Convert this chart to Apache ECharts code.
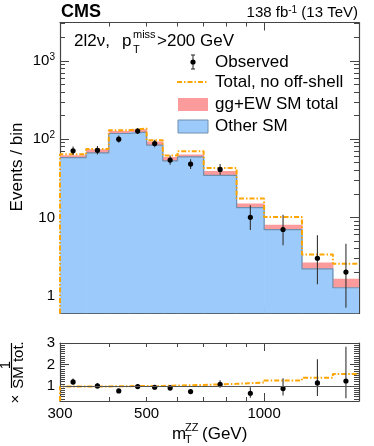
<!DOCTYPE html>
<html>
<head>
<meta charset="utf-8">
<script src="https://cdn.jsdelivr.net/npm/echarts@6/dist/echarts.min.js"></script>
<style>html,body{margin:0;padding:0;background:#fff}#c{width:374px;height:446px}</style>
</head>
<body>
<div id="c"></div>
<script>
// ---- data ----
const binEdges = [300, 350, 400, 450, 500, 550, 600, 700, 850, 1000, 1250, 1500, 1750];
const otherSM = [58.2, 66.7, 118, 123, 83.8, 52.7, 59.3, 34.5, 13.3, 6.95, 2.2, 1.26];
const smTotal = [62.4, 74.5, 127, 134, 93.4, 59.3, 63.7, 39.2, 15.0, 8.06, 2.65, 1.64];
const totalNoOffShell = [64, 75, 130, 137, 97, 61.7, 70, 42.9, 17.4, 10.1, 3.35, 2.55];
const observed = [71, 72, 100, 127, 88, 54, 48, 41, 10, 7, 3, 2];
const obsErrUp = [9.5, 9.5, 11, 12, 10, 8, 7.5, 7, 4.3, 3.8, 2.9, 2.6];
const obsErrDown = [8.4, 8.5, 10, 11, 9, 7, 6.5, 6, 3.1, 2.6, 1.6, 1.3];
const ratioObs = [1.19, 1.0, 0.77, 0.97, 0.94, 0.91, 0.74, 1.08, 0.66, 0.88, 1.14, 1.23];
const ratioNoOffShell = [0.98, 0.98, 0.99, 1.0, 1.0, 1.02, 1.05, 1.1, 1.16, 1.26, 1.38, 1.56];

const xTicksMinor = [400, 500, 600, 700, 800, 900];
const xTicksMajor = [1000];
const xTickLabels = [300, 500, 1000];
const yTicksMajor = [1, 10, 100, 1000];
const yTicksMinor = [0.6, 0.7, 0.8, 0.9, 2, 3, 4, 5, 6, 7, 8, 9, 20, 30, 40, 50, 60, 70, 80, 90, 200, 300, 400, 500, 600, 700, 800, 900, 2000, 3000];
const rTicksMajor = [1, 2, 3];
const rTicksMinor = [0.4, 0.5, 0.6, 0.7, 0.8, 0.9, 1.1, 1.2, 1.3, 1.4, 1.5, 1.6, 1.7, 1.8, 1.9, 2.1, 2.2, 2.3, 2.4, 2.5, 2.6, 2.7, 2.8, 2.9];

const xMin = 300, xMax = 1750;
const yMin = 0.59, yMax = 3100;
const rMin = 0.3, rMax = 3;

// ---- styles ----
const FONT = 'Liberation Sans, Arial, Helvetica, sans-serif';
const FRAME = '#444';
const BLUE = '#9ccbfb';
const BLUE_LINE = '#6f8fae';
const RED = '#fc9b9b';
const ORANGE = '#ffa500';
const DASH = [5, 2, 1.5, 2];

const chart = echarts.init(document.getElementById('c'), null, {renderer: 'canvas'});

function xAxesFor(gridIndex, withLabels) {
  const base = {type: 'log', logBase: 10, min: xMin, max: xMax, gridIndex, splitLine: {show: false}};
  return [
    Object.assign({}, base, {position: 'bottom',
      axisLine: {show: true, lineStyle: {color: FRAME, width: 1.2}},
      axisTick: {show: true, inside: true, length: 4, customValues: xTicksMinor, lineStyle: {color: FRAME}},
      axisLabel: {show: withLabels, customValues: xTickLabels, margin: 5, color: '#000', fontSize: 15, fontFamily: FONT,
        formatter: v => String(Math.round(v))}}),
    Object.assign({}, base, {position: 'bottom',
      axisLine: {show: false},
      axisTick: {show: true, inside: true, length: 8, customValues: xTicksMajor, lineStyle: {color: FRAME}},
      axisLabel: {show: false}}),
    Object.assign({}, base, {position: 'top',
      axisLine: {show: true, lineStyle: {color: FRAME, width: 1.2}},
      axisTick: {show: true, inside: true, length: 4, customValues: xTicksMinor, lineStyle: {color: FRAME}},
      axisLabel: {show: false}}),
    Object.assign({}, base, {position: 'top',
      axisLine: {show: false},
      axisTick: {show: true, inside: true, length: 8, customValues: xTicksMajor, lineStyle: {color: FRAME}},
      axisLabel: {show: false}})
  ];
}

function yAxesFor(gridIndex, type, min, max, major, minor, labelFmt) {
  const base = {type, min, max, gridIndex, splitLine: {show: false}};
  if (type === 'log') base.logBase = 10;
  return [
    Object.assign({}, base, {position: 'left',
      axisLine: {show: true, lineStyle: {color: FRAME, width: 1.2}},
      axisTick: {show: true, inside: true, length: 9, customValues: major, lineStyle: {color: FRAME}},
      axisLabel: {show: true, customValues: major, margin: 5, color: '#000', fontSize: 15, fontFamily: FONT,
        formatter: labelFmt, rich: {s: {fontSize: 10, fontFamily: FONT, color: '#000', verticalAlign: 'top', padding: [0, 0, 7, 0]}}}}),
    Object.assign({}, base, {position: 'left',
      axisLine: {show: false},
      axisTick: {show: true, inside: true, length: 5, customValues: minor, lineStyle: {color: FRAME}},
      axisLabel: {show: false}}),
    Object.assign({}, base, {position: 'right',
      axisLine: {show: true, lineStyle: {color: FRAME, width: 1.2}},
      axisTick: {show: true, inside: true, length: 9, customValues: major, lineStyle: {color: FRAME}},
      axisLabel: {show: false}}),
    Object.assign({}, base, {position: 'right',
      axisLine: {show: false},
      axisTick: {show: true, inside: true, length: 5, customValues: minor, lineStyle: {color: FRAME}},
      axisLabel: {show: false}})
  ];
}

const mainLabelFmt = v => {
  if (v < 50) return String(Math.round(v));
  return '10{s|' + Math.round(Math.log10(v)) + '}';
};

// histogram data
const blueRects = otherSM.map((v, i) => [binEdges[i], binEdges[i + 1], yMin, v]);
const redRects = smTotal.map((v, i) => [binEdges[i], binEdges[i + 1], otherSM[i], v]);
function stepData(vals, bottom) {
  const d = [];
  if (bottom !== undefined) d.push([binEdges[0], bottom]);
  vals.forEach((v, i) => d.push([binEdges[i], v]));
  d.push([binEdges[binEdges.length - 1], vals[vals.length - 1]]);
  return d;
}
const centers = binEdges.slice(0, -1).map((e, i) => Math.sqrt(e * binEdges[i + 1]));
const obsPoints = observed.map((v, i) => [centers[i], v, v - obsErrDown[i], v + obsErrUp[i]]);
const ratioPoints = ratioObs.map((r, i) => [centers[i], r, r - r * obsErrDown[i] / observed[i], r + r * obsErrUp[i] / observed[i]]);

function rectItem(params, api) {
  const p0 = api.coord([api.value(0), api.value(3)]);
  const p1 = api.coord([api.value(1), api.value(2)]);
  const c = api.visual('color');
  return {type: 'rect', shape: {x: p0[0], y: p0[1], width: p1[0] - p0[0] + 0.6, height: p1[1] - p0[1]},
    style: {fill: c}};
}
function errItem(params, api) {
  const c = api.coord([api.value(0), api.value(1)]);
  const lo = api.coord([api.value(0), api.value(2)]);
  const hi = api.coord([api.value(0), api.value(3)]);
  return {type: 'group', children: [
    {type: 'line', shape: {x1: c[0], y1: lo[1], x2: c[0], y2: hi[1]}, style: {stroke: '#333', lineWidth: 1.1}},
    {type: 'circle', shape: {cx: c[0], cy: c[1], r: 2.6}, style: {fill: '#000'}}
  ]};
}

const option = {
  animation: false,
  backgroundColor: '#fff',
  grid: [
    {left: 60, top: 22.5, width: 299, height: 291, outerBoundsMode: 'none', containLabel: false},
    {left: 60, top: 343, width: 299, height: 58, outerBoundsMode: 'none', containLabel: false}
  ],
  xAxis: xAxesFor(0, false).concat(xAxesFor(1, true)),
  yAxis: yAxesFor(0, 'log', yMin, yMax, yTicksMajor, yTicksMinor, mainLabelFmt)
    .concat(yAxesFor(1, 'value', rMin, rMax, rTicksMajor, rTicksMinor, v => String(v))),
  series: [
    {type: 'custom', name: 'Other SM', xAxisIndex: 0, yAxisIndex: 0, clip: true, z: 1,
      itemStyle: {color: BLUE}, renderItem: rectItem, data: blueRects},
    {type: 'custom', name: 'gg+EW SM total', xAxisIndex: 0, yAxisIndex: 0, clip: true, z: 1,
      itemStyle: {color: RED}, renderItem: rectItem, data: redRects},
    {type: 'line', xAxisIndex: 0, yAxisIndex: 0, step: 'end', symbol: 'none', z: 2,
      lineStyle: {color: BLUE_LINE, width: 1.2}, data: stepData(otherSM)},
    {type: 'line', name: 'Total, no off-shell', xAxisIndex: 0, yAxisIndex: 0, step: 'end', symbol: 'none', z: 3,
      lineStyle: {color: ORANGE, width: 2, type: DASH}, data: stepData(totalNoOffShell, yMin)},
    {type: 'custom', name: 'Observed', xAxisIndex: 0, yAxisIndex: 0, clip: true, z: 4,
      renderItem: errItem, data: obsPoints},
    // ratio panel
    {type: 'line', xAxisIndex: 4, yAxisIndex: 4, step: 'end', symbol: 'none', z: 3,
      lineStyle: {color: ORANGE, width: 2, type: DASH}, data: stepData(ratioNoOffShell, rMin),
      markLine: {silent: true, symbol: 'none', label: {show: false}, animation: false,
        lineStyle: {color: '#555', width: 1.2, type: 'solid'}, data: [{yAxis: 1}]}},
    {type: 'custom', xAxisIndex: 4, yAxisIndex: 4, clip: true, z: 4,
      renderItem: errItem, data: ratioPoints}
  ],
  graphic: [
    {type: 'text', left: 61, top: 3, style: {text: 'CMS', fontSize: 18, fontWeight: 'bold', fontFamily: FONT, fill: '#000'}},
    {type: 'text', x: 358, y: 13, style: {text: '138 fb{s|-1} (13 TeV)', align: 'right', verticalAlign: 'middle',
      fontSize: 15, fontFamily: FONT, fill: '#000',
      rich: {s: {fontSize: 10, fontFamily: FONT, fill: '#000', verticalAlign: 'top', padding: [0, 0, 6, 0]}}}},
    {type: 'text', x: 74, y: 41, style: {text: '2l2ν,', verticalAlign: 'middle', fontSize: 17, fontFamily: FONT, fill: '#000'}},
    {type: 'text', x: 122, y: 41, style: {text: 'p', verticalAlign: 'middle', fontSize: 17, fontFamily: FONT, fill: '#000'}},
    {type: 'text', x: 133, y: 35, style: {text: 'miss', verticalAlign: 'middle', fontSize: 11, fontFamily: FONT, fill: '#000'}},
    {type: 'text', x: 133, y: 50, style: {text: 'T', verticalAlign: 'middle', fontSize: 11, fontFamily: FONT, fill: '#000'}},
    {type: 'text', x: 157, y: 41, style: {text: '>200 GeV', verticalAlign: 'middle', fontSize: 17, fontFamily: FONT, fill: '#000'}},
    // legend
    {type: 'line', shape: {x1: 193, y1: 55, x2: 193, y2: 69}, style: {stroke: '#333', lineWidth: 1.1}},
    {type: 'line', shape: {x1: 191, y1: 55, x2: 195, y2: 55}, style: {stroke: '#333', lineWidth: 1.1}},
    {type: 'line', shape: {x1: 191, y1: 69, x2: 195, y2: 69}, style: {stroke: '#333', lineWidth: 1.1}},
    {type: 'circle', shape: {cx: 193, cy: 62, r: 2.6}, style: {fill: '#000'}},
    {type: 'text', x: 215, y: 62, style: {text: 'Observed', verticalAlign: 'middle', fontSize: 17, fontFamily: FONT, fill: '#000'}},
    {type: 'line', shape: {x1: 177, y1: 82, x2: 208, y2: 82}, style: {stroke: ORANGE, lineWidth: 2, lineDash: DASH}},
    {type: 'text', x: 215, y: 82, style: {text: 'Total, no off-shell', verticalAlign: 'middle', fontSize: 17, fontFamily: FONT, fill: '#000'}},
    {type: 'rect', shape: {x: 178, y: 98, width: 30, height: 13}, style: {fill: RED}},
    {type: 'text', x: 215, y: 104, style: {text: 'gg+EW SM total', verticalAlign: 'middle', fontSize: 17, fontFamily: FONT, fill: '#000'}},
    {type: 'rect', shape: {x: 178, y: 120, width: 30, height: 13}, style: {fill: BLUE, stroke: BLUE_LINE, lineWidth: 1}},
    {type: 'text', x: 215, y: 126, style: {text: 'Other SM', verticalAlign: 'middle', fontSize: 17, fontFamily: FONT, fill: '#000'}},
    // y title
    {type: 'text', x: 17, y: 167, rotation: Math.PI / 2, style: {text: 'Events / bin', align: 'center', verticalAlign: 'middle', fontSize: 17, fontFamily: FONT, fill: '#000'}},
    // ratio y title
    {type: 'text', x: 16, y: 399, rotation: Math.PI / 2, style: {text: '×', align: 'center', verticalAlign: 'middle', fontSize: 15, fontFamily: FONT, fill: '#000'}},
    {type: 'text', x: 6, y: 365, rotation: Math.PI / 2, style: {text: '1', align: 'center', verticalAlign: 'middle', fontSize: 15, fontFamily: FONT, fill: '#000'}},
    {type: 'line', shape: {x1: 11.5, y1: 343, x2: 11.5, y2: 388}, style: {stroke: '#000', lineWidth: 1.2}},
    {type: 'text', x: 19, y: 365, rotation: Math.PI / 2, style: {text: 'SM tot.', align: 'center', verticalAlign: 'middle', fontSize: 15, fontFamily: FONT, fill: '#000'}},
    // x title
    {type: 'text', x: 172, y: 434, style: {text: 'm', verticalAlign: 'middle', fontSize: 17, fontFamily: FONT, fill: '#000'}},
    {type: 'text', x: 185, y: 428, style: {text: 'ZZ', verticalAlign: 'middle', fontSize: 11, fontFamily: FONT, fill: '#000'}},
    {type: 'text', x: 185, y: 440, style: {text: 'T', verticalAlign: 'middle', fontSize: 11, fontFamily: FONT, fill: '#000'}},
    {type: 'text', x: 202, y: 434, style: {text: '(GeV)', verticalAlign: 'middle', fontSize: 17, fontFamily: FONT, fill: '#000'}}
  ]
};
chart.setOption(option);
</script>
</body>
</html>
